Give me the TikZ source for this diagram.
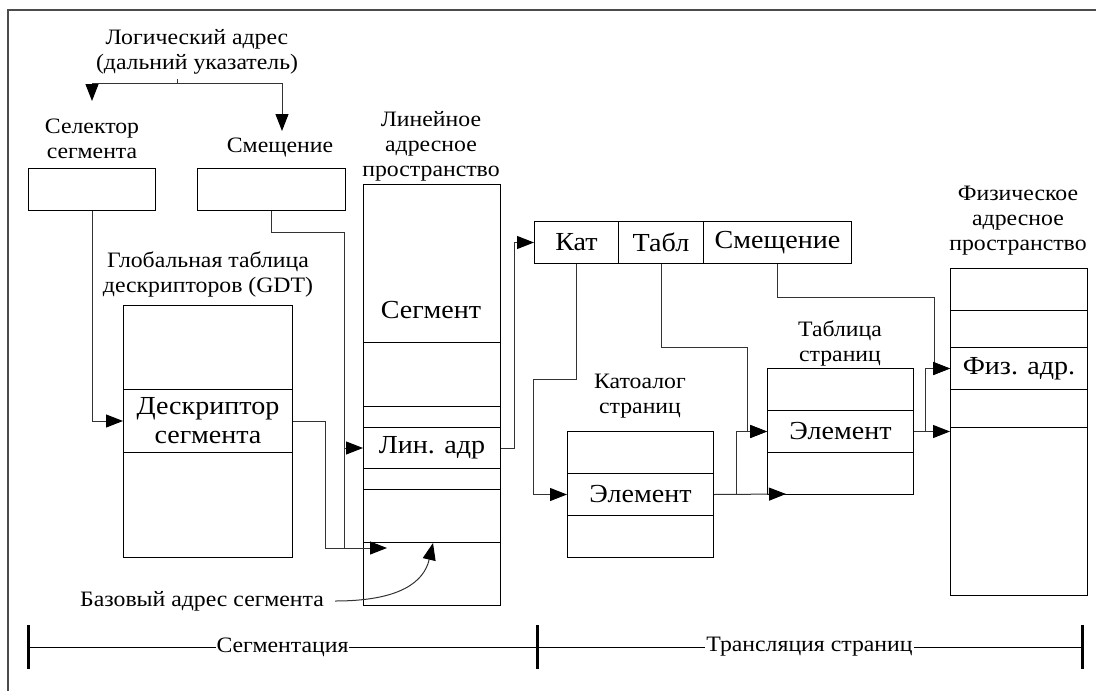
\documentclass[tikz,border=0pt]{standalone}
\usepackage{fontspec}
\setmainfont{Liberation Serif}[FakeStretch=1.08]
\usetikzlibrary{arrows.meta,calc}

% one table cell: name, x, y (top-left), width, height, text
\newcommand\mkcell[6]{\node[cell, minimum width=#4pt, minimum height=#5pt] (#1) at (#2,#3) {#6};}

\begin{document}
\begin{tikzpicture}[x=1pt,y=-1pt,
  cell/.style={draw=black, line width=1pt, inner sep=0pt, anchor=north west,
               font=\fontsize{26}{29}\selectfont, align=center},
  lbl/.style={inner sep=0pt, align=center, font=\fontsize{22}{25}\selectfont},
  big/.style={inner sep=0pt, font=\fontsize{26}{29}\selectfont},
  wire/.style={draw=black!80, line width=1pt},
  arr/.style={wire, -{Triangle[length=17pt,width=13pt,color=black]}},
  tick/.style={line width=3pt},
]
\useasboundingbox (0,0) rectangle (1096,691);
\draw[black!70, line width=1.5pt] (8,691) -- (8,10) -- (1096,10);

% ---- segmentation part ----
\node[lbl] (logic) at (197,52) {Логический адрес\\(дальний указатель)};
\node[lbl] (selLbl) at (92,139) {Селектор\\сегмента};
\node[lbl] (offLbl) at (280,148) {Смещение};
\node[lbl] (gdtLbl) at (208,274) {Глобальная таблица\\дескрипторов (GDT)};
\node[lbl] (linLbl) at (431,146) {Линейное\\адресное\\пространство};

\mkcell{sel}{28}{168}{127}{42}{}
\mkcell{off}{197}{168}{148}{42}{}

\mkcell{gdt1}{123}{305}{169}{84}{}
\mkcell{gdt2}{123}{389}{169}{63}{Дескриптор\\сегмента}
\mkcell{gdt3}{123}{452}{169}{105}{}

\mkcell{lin1}{363}{184}{137}{158}{}
\mkcell{lin2}{363}{342}{137}{64}{}
\mkcell{lin3}{363}{406}{137}{21}{}
\mkcell{lin4}{363}{427}{137}{41}{Лин. адр}
\mkcell{lin5}{363}{468}{137}{21}{}
\mkcell{lin6}{363}{489}{137}{53}{}
\mkcell{lin7}{363}{542}{137}{63}{}
\node[big] (segTxt) at (431,310) {Сегмент};

\coordinate (fork) at (177,83);
\coordinate (selTip) at (92,101);
\coordinate (offTip) at (282,131);
\coordinate (join) at (344,548);
\coordinate (sumTip) at (387,548);
\coordinate (baseTip) at (433,543);

\draw[wire] (fork) -- ++(0,-4);
\draw[arr] (fork) -| (selTip);
\draw[arr] (fork) -| (offTip);

\draw[arr] (sel.south) |- (gdt2.west);
\draw[wire] (off.south) -- ++(0,21) -| (join);
\draw[arr] (lin4.west -| join) -- (lin4.west);
\draw[arr] (gdt2.east) -- ++(32,0) |- (sumTip);

\node[lbl, anchor=east] (baseLbl) at (324,601) {Базовый адрес сегмента};
\draw[arr] ($(baseLbl.east)+(11,0)$) .. controls (400,601) and (424,582) .. (baseTip);

% ---- paging part ----
\mkcell{kat}{534}{221}{84}{42}{Кат}
\mkcell{tabl}{618}{221}{85}{42}{Табл}
\mkcell{smesh}{703}{221}{148}{42}{Смещение}

\node[lbl] (catLbl) at (640,396) {Катоалог\\страниц};
\mkcell{cat1}{567}{431}{146}{42}{}
\mkcell{cat2}{567}{473}{146}{42}{Элемент}
\mkcell{cat3}{567}{515}{146}{42}{}

\node[lbl] (ptLbl) at (840,343) {Таблица\\страниц};
\mkcell{pt1}{767}{368}{146}{42}{}
\mkcell{pt2}{767}{410}{146}{42}{Элемент}
\mkcell{pt3}{767}{452}{146}{42}{}

\node[lbl] (physLbl) at (1018,221) {Физическое\\адресное\\пространство};
\mkcell{phys1}{950}{268}{137}{42}{}
\mkcell{phys2}{950}{310}{137}{37}{}
\mkcell{phys3}{950}{347}{137}{42}{Физ. адр.}
\mkcell{phys4}{950}{389}{137}{38}{}
\mkcell{phys5}{950}{427}{137}{168}{}

\coordinate (ptTip) at (786,494);

\draw[arr] (lin4.east) -- ++(13,0) |- (kat.west);
\draw[arr] (kat.south) -- ++(0,115) -- ++(-43,0) |- (cat2.west);
\draw[arr] (tabl.south) -- ++(0,83) -- ++(86,0) |- (pt2.west);
\draw[arr] (cat2.east) -- (ptTip);
\draw[arr] ($(cat2.east)+(22,0)$) |- (pt2.west);
\draw[arr] (smesh.south) -- ++(0,33) -| ($(phys3.west)+(-16,0)$) -- (phys3.west);
\draw[arr] (pt2.east) -- (pt2.east -| phys5.west);
\draw[arr] ($(pt2.east)+(11,0)$) |- (phys3.west);

% ---- stage scale ----
\coordinate (t1) at (28,647);
\coordinate (t2) at (537,647);
\coordinate (t3) at (1082,647);
\foreach \t in {t1,t2,t3} \draw[tick] ($(\t)+(0,-22)$) -- ($(\t)+(0,22)$);
\draw[line width=1pt] (t1) -- node[lbl, fill=white, inner xsep=1pt] (stage1) {Сегментация} (t2);
\draw[line width=1pt] (t2) -- node[lbl, fill=white, inner xsep=1pt] (stage2) {Трансляция страниц} (t3);
\end{tikzpicture}
\end{document}
